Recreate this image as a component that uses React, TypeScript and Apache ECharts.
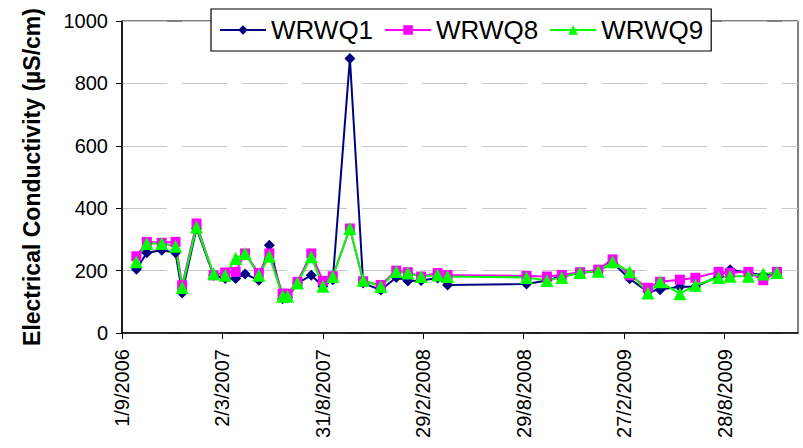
import React, { useEffect, useRef } from "react";
import * as echarts from "echarts";

const dates = [
  "2006-09-27", "2006-10-16", "2006-11-12", "2006-12-07", "2006-12-19", "2007-01-14",
  "2007-02-14", "2007-03-07", "2007-03-26", "2007-04-12", "2007-05-07", "2007-05-26",
  "2007-06-19", "2007-06-28", "2007-07-16", "2007-08-10", "2007-08-31", "2007-09-18",
  "2007-10-19", "2007-11-12", "2007-12-14", "2008-01-11", "2008-02-01", "2008-02-25",
  "2008-03-26", "2008-04-13", "2008-09-03", "2008-10-10", "2008-11-06", "2008-12-09",
  "2009-01-11", "2009-02-06", "2009-03-09", "2009-04-11", "2009-05-03", "2009-06-08",
  "2009-07-06", "2009-08-17", "2009-09-07", "2009-10-10", "2009-11-06", "2009-12-01",
];

const wrwq1 = [
  204, 257, 265, 257, 128, 335, 185, 175, 175, 189, 169, 281, 110, 113, 160, 185, 150, 171,
  880, 160, 138, 178, 167, 168, 176, 154, 157, 168, 183, 192, 199, 225, 174, 132, 139, 148,
  148, 182, 203, 193, 185, 193,
];
const wrwq8 = [
  246, 292, 289, 292, 153, 351, 185, 194, 196, 255, 192, 255, 126, 126, 164, 255, 167, 182,
  335, 166, 154, 200, 195, 181, 192, 186, 183, 181, 186, 195, 203, 236, 185, 145, 164, 171,
  177, 196, 193, 196, 169, 196,
];
const wrwq9 = [
  228, 287, 287, 278, 146, 340, 190, 185, 239, 255, 185, 246, 118, 118, 160, 244, 150, 181,
  335, 169, 149, 197, 192, 181, 186, 181, 178, 168, 178, 194, 198, 228, 196, 128, 164, 126,
  153, 178, 182, 182, 189, 194,
];

const seriesNames = ["WRWQ1", "WRWQ8", "WRWQ9"];
const yTicks = [0, 200, 400, 600, 800, 1000];
const xTickLabels = ["1/9/2006", "2/3/2007", "31/8/2007", "29/2/2008", "29/8/2008", "27/2/2009", "28/8/2009"];
const axisStart = "2006-09-01";
const axisEnd = "2010-01-08";

const DAY = 86400000;
const parse = (s: string) => {
  const [y, m, d] = s.split("-").map(Number);
  return Date.UTC(y, m - 1, d);
};
const START = parse(axisStart);
const toDay = (s: string) => Math.round((parse(s) - START) / DAY);
const fmt = (v: number) => {
  const dt = new Date(START + v * DAY);
  return `${dt.getUTCDate()}/${dt.getUTCMonth() + 1}/${dt.getUTCFullYear()}`;
};
const labelToDay = (l: string) => {
  const [d, m, y] = l.split("/").map(Number);
  return Math.round((Date.UTC(y, m - 1, d) - START) / DAY);
};

const FONT = "'Liberation Sans', Arial, sans-serif";

export default function App() {
  const ref = useRef<HTMLDivElement>(null);
  useEffect(() => {
    if (!ref.current) return;
    const chart = echarts.init(ref.current, null, { renderer: "svg" });
    const days = dates.map(toDay);
    const xTicks = xTickLabels.map(labelToDay);
    const mk = (vals: number[]) => vals.map((v, i) => [days[i], v]);
    const colors = ["#000080", "#FF00FF", "#00FF00"];
    const symbols = ["diamond", "rect", "triangle"];
    const sizes = [11, 10, 13];
    const datasets = [wrwq1, wrwq8, wrwq9];
    chart.setOption({
      animation: false,
      backgroundColor: "#ffffff",
      textStyle: { fontFamily: FONT },
      grid: {
        left: 122,
        right: 5,
        top: 21,
        bottom: 115,
        containLabel: false,
        outerBoundsMode: "none",
        show: true,
        borderColor: "#000",
        borderWidth: 1,
      },
      legend: {
        left: 211,
        top: 9,
        padding: [8, 8],
        itemGap: 11,
        itemWidth: 46,
        itemHeight: 12,
        backgroundColor: "#fff",
        borderColor: "#000",
        borderWidth: 1.2,
        textStyle: { fontSize: 26, color: "#000", fontFamily: FONT },
        data: seriesNames,
      },
      xAxis: {
        type: "value",
        min: 0,
        max: toDay(axisEnd),
        interval: 182,
        axisLine: { show: true, lineStyle: { color: "#000", width: 1.5 } },
        axisTick: { show: true, length: 6, lineStyle: { color: "#000" }, customValues: xTicks },
        axisLabel: {
          customValues: xTicks,
          rotate: 90,
          margin: 16,
          fontSize: 20,
          color: "#000",
          fontFamily: FONT,
          formatter: (v: number) => fmt(v),
        },
        splitLine: { show: false },
      },
      yAxis: {
        type: "value",
        min: yTicks[0],
        max: yTicks[yTicks.length - 1],
        interval: 200,
        name: "Electrical Conductivity (µS/cm)",
        nameLocation: "middle",
        nameGap: 79,
        nameTextStyle: { fontSize: 23, fontWeight: "bold", color: "#000", fontFamily: FONT },
        axisLine: { show: true, lineStyle: { color: "#000", width: 1.5 } },
        axisTick: { show: true, length: 6, lineStyle: { color: "#000" } },
        axisLabel: {
          margin: 14,
          fontSize: 20,
          color: "#000",
          fontFamily: FONT,
          formatter: (v: number) => String(v),
        },
        splitLine: { show: true, lineStyle: { color: "#c8c8c8", width: 1, type: [45, 15] } },
      },
      series: seriesNames.map((name, i) => ({
        name,
        type: "line",
        data: mk(datasets[i]),
        symbol: symbols[i],
        symbolSize: sizes[i],
        showAllSymbol: true,
        lineStyle: { color: colors[i], width: 2 },
        itemStyle: { color: colors[i] },
      })),
    });
    return () => chart.dispose();
  }, []);
  return (
    <div
      ref={ref}
      style={{ position: "absolute", left: 0, top: 0, width: 803, height: 448 }}
    />
  );
}
